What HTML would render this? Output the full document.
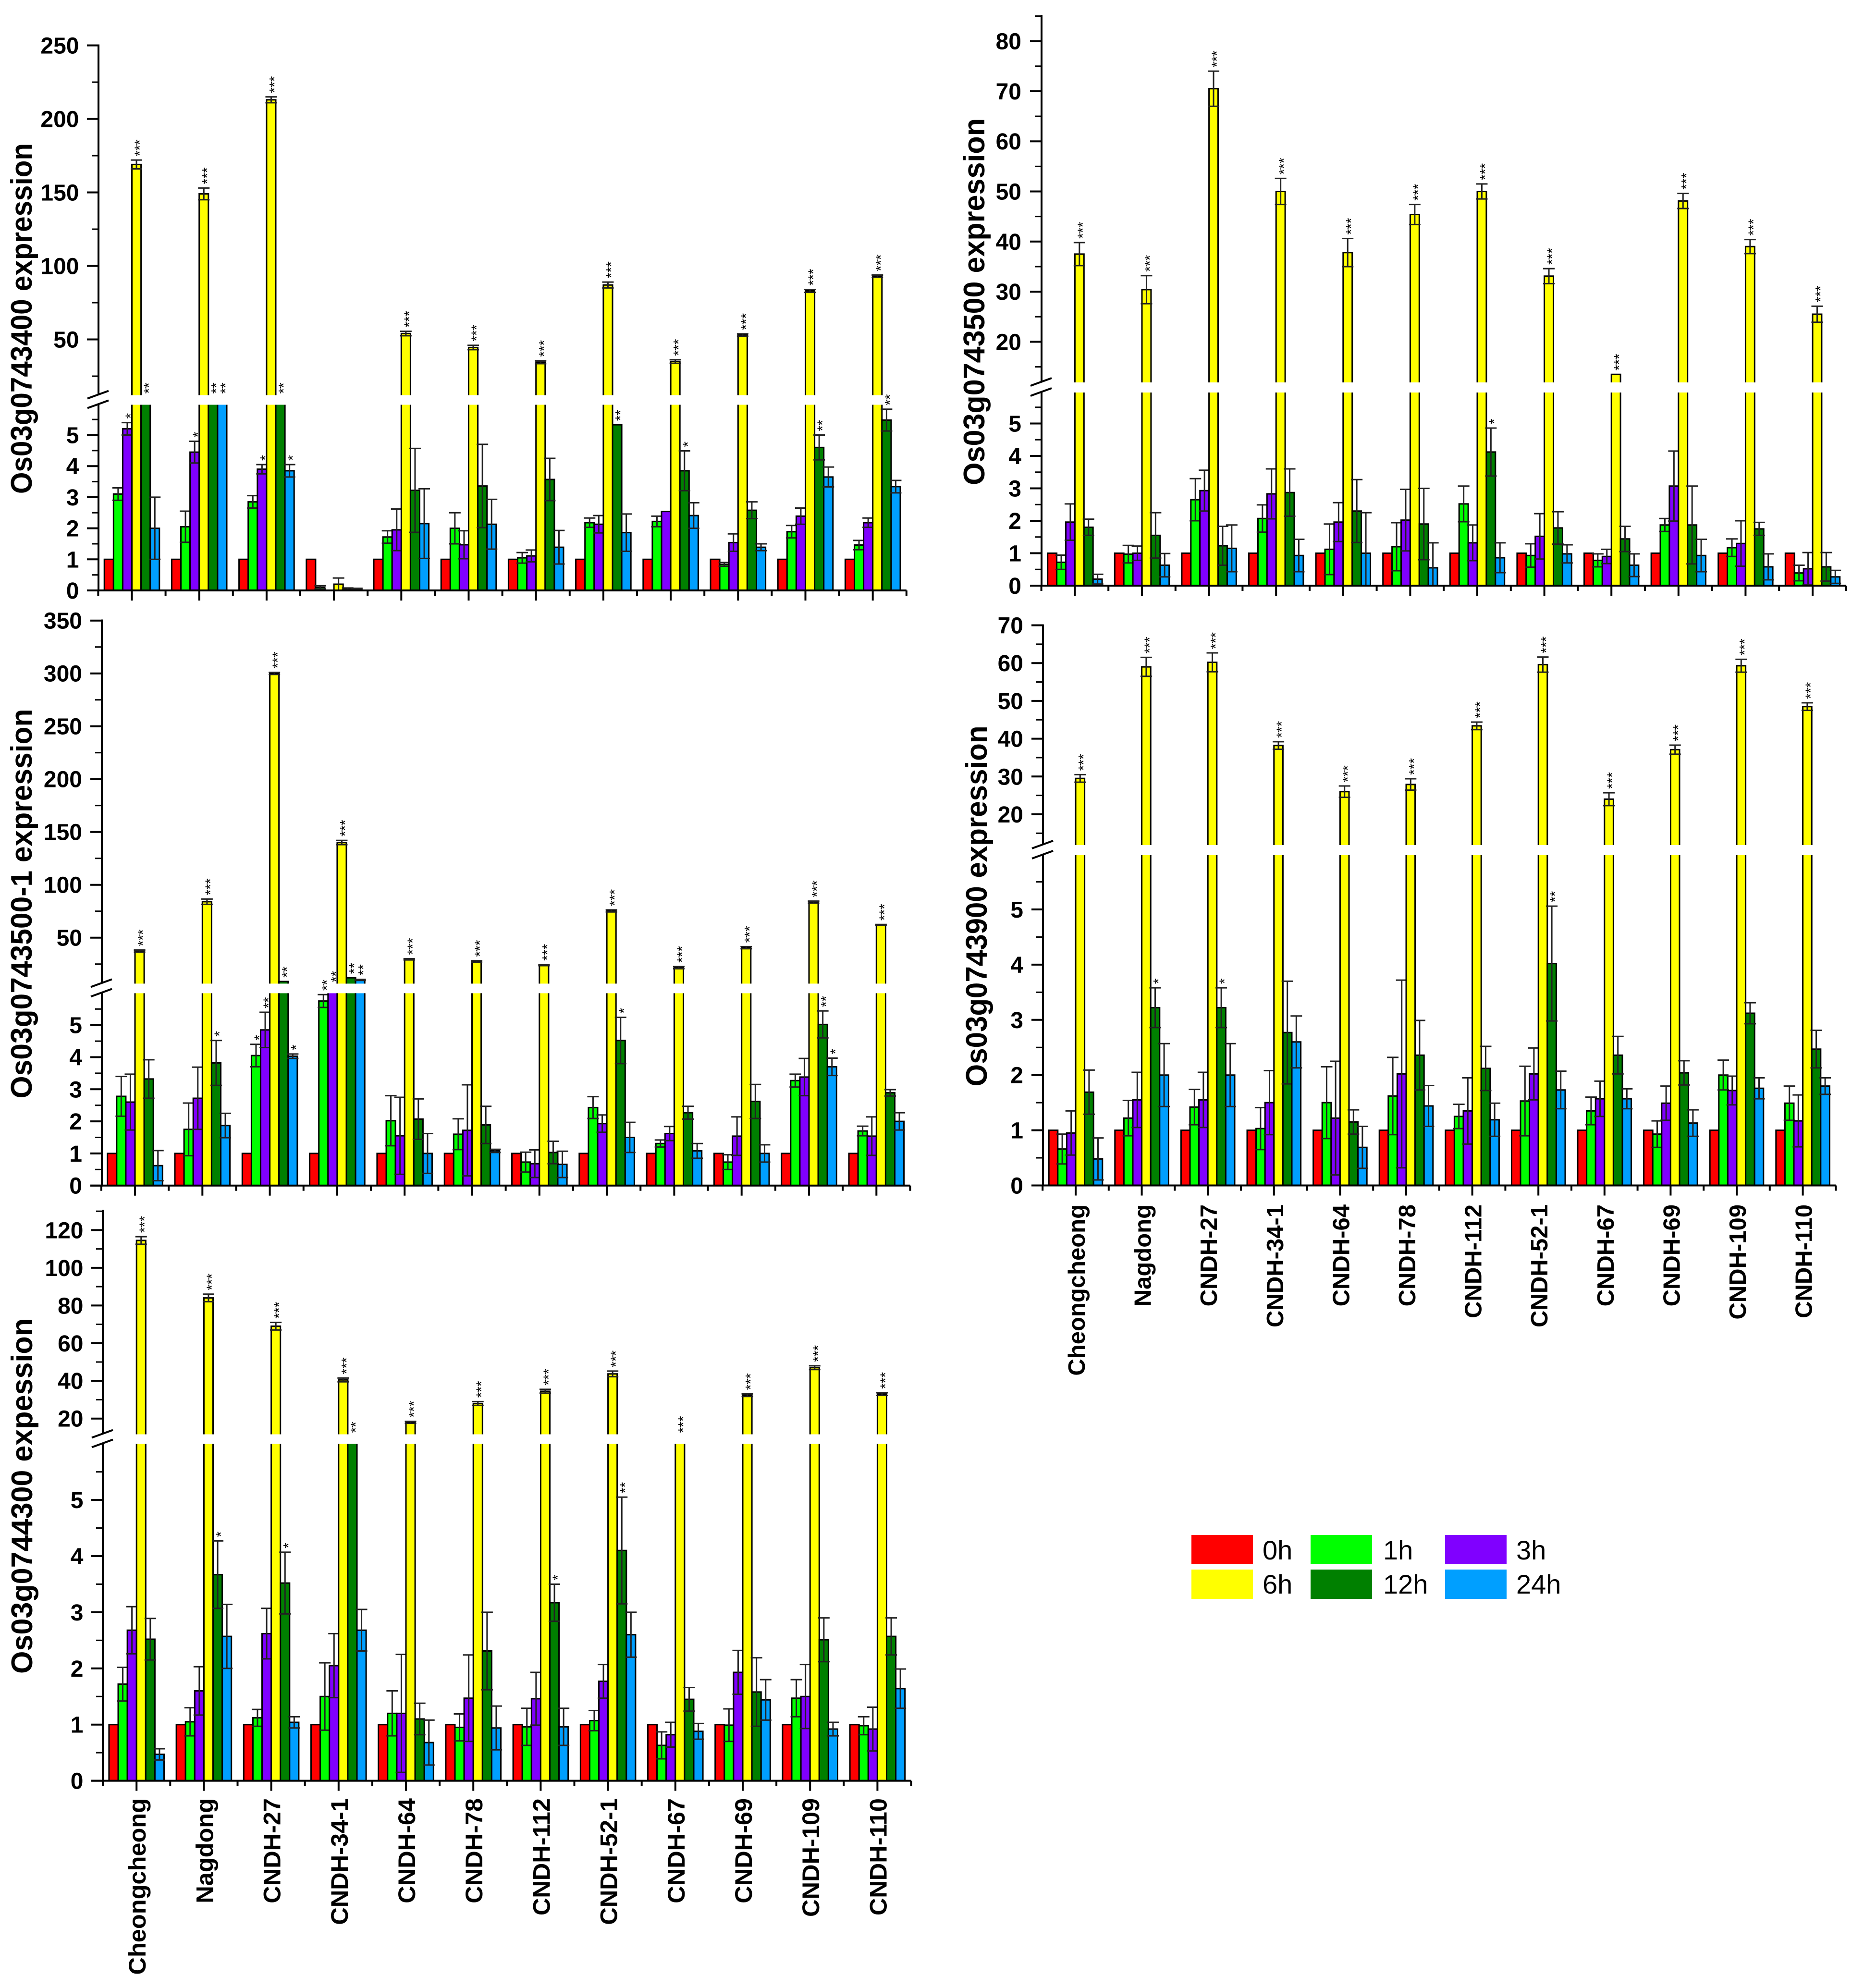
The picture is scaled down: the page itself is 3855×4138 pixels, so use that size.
<!DOCTYPE html>
<html lang="en">
<head>
<meta charset="utf-8">
<title>Os03g07 gene expression across CNDH lines</title>
<style>
html,body{margin:0;padding:0;background:#fff}
svg{display:block}
text{font-family:"Liberation Sans",Arial,sans-serif;fill:#000}
.tick{font-weight:700;font-size:48px}
.ylab{font-weight:700;font-size:62px}
.cat{font-weight:700}
.star{font-size:30px;font-weight:400}
.leg{font-size:56px}
</style>
</head>
<body>
<svg id="figure" xmlns="http://www.w3.org/2000/svg" width="3855" height="4138" viewBox="0 0 3855 4138">
<rect x="0" y="0" width="3855" height="4138" fill="#fff"/>
<g>
<rect x="2480" y="3195" width="128" height="61" fill="#ff0000"/>
<text class="leg" x="2628" y="3246">0h</text>
<rect x="2728" y="3195" width="128" height="61" fill="#00ff00"/>
<text class="leg" x="2879" y="3246">1h</text>
<rect x="3008" y="3195" width="128" height="61" fill="#8000ff"/>
<text class="leg" x="3156" y="3246">3h</text>
<rect x="2480" y="3267" width="128" height="61" fill="#ffff00"/>
<text class="leg" x="2628" y="3317">6h</text>
<rect x="2728" y="3267" width="128" height="61" fill="#008000"/>
<text class="leg" x="2879" y="3317">12h</text>
<rect x="3008" y="3267" width="128" height="61" fill="#009fff"/>
<text class="leg" x="3156" y="3317">24h</text>
</g>
</svg>
<script>
const categories = ["Cheongcheong","Nagdong","CNDH-27","CNDH-34-1","CNDH-64","CNDH-78","CNDH-112","CNDH-52-1","CNDH-67","CNDH-69","CNDH-109","CNDH-110"];
const hours = ["0h","1h","3h","6h","12h","24h"];
const control0h = [1,1,1,1,1,1,1,1,1,1,1,1];

/* Os03g0743400 */
const a1h = [3.1,2.05,2.85,0.1,1.72,2.0,1.05,2.18,2.22,0.84,1.89,1.46];
const a1hErr = [0.2,0.5,0.2,0.05,0.2,0.5,0.17,0.15,0.17,0.06,0.2,0.15];
const a3h = [5.2,4.45,3.9,0,1.95,1.47,1.11,2.13,2.54,1.54,2.39,2.18];
const a3hErr = [0.2,0.35,0.15,0,0.67,0.45,0.19,0.28,0,0.28,0.26,0.15];
const a6h = [169,149,213,0.2,54,44.5,34.5,87,35,53,83,93];
const a6hErr = [3,4,2,0.2,1.5,1.5,1,2,1.2,0.8,1,0.8];
const a12h = [10,10,10,0.05,3.22,3.36,3.57,5.33,3.85,2.58,4.6,5.48];
const a12hErr = [0,0,0,0.03,1.35,1.34,0.68,0,0.64,0.27,0.4,0.35];
const a24h = [2.0,10,3.85,0.05,2.15,2.13,1.39,1.86,2.41,1.39,3.65,3.34];
const a24hErr = [1.0,0,0.2,0.02,1.12,0.8,0.54,0.6,0.41,0.11,0.32,0.2];
const a3hStars = ["*","*","*","","","","","","","","",""];
const a6hStars = ["***","***","***","","***","***","***","***","***","***","***","***"];
const a12hStars = ["**","**","**","","","","","**","*","","**","**"];
const a24hStars = ["","**","*","","","","","","","","",""];
const aUpperTicks = [50,100,150,200,250];
const aLowerTicks = [0,1,2,3,4,5];

/* Os03g0743500 */
const b1h = [0.72,0.97,2.65,2.07,1.12,1.2,2.52,0.93,0.78,1.87,1.17,0.39];
const b1hErr = [0.22,0.27,0.65,0.42,0.78,0.74,0.55,0.36,0.2,0.2,0.27,0.24];
const b3h = [1.96,1.0,2.93,2.83,1.96,2.02,1.32,1.52,0.9,3.07,1.3,0.52];
const b3hErr = [0.56,0.22,0.63,0.77,0.6,0.95,0.55,0.7,0.22,1.08,0.7,0.5];
const b6h = [37.5,30.4,70.5,50,37.8,45.4,50,33.1,13.5,48.1,39,25.5];
const b6hErr = [2.3,2.8,3.5,2.6,2.8,2,1.5,1.5,0,1.5,1.4,1.6];
const b12h = [1.8,1.55,1.23,2.87,2.3,1.9,4.12,1.78,1.44,1.87,1.75,0.58];
const b12hErr = [0.25,0.7,0.6,0.73,0.97,1.1,0.74,0.5,0.39,1.2,0.2,0.44];
const b24h = [0.2,0.63,1.15,0.93,1.0,0.55,0.86,0.98,0.63,0.93,0.58,0.27];
const b24hErr = [0.15,0.36,0.72,0.5,1.25,0.77,0.46,0.28,0.35,0.5,0.4,0.2];
const b6hStars = ["***","***","***","***","***","***","***","***","***","***","***","***"];
const b12hStars = ["","","","","","","*","","","","",""];
const bUpperTicks = [20,30,40,50,60,70,80];
const bLowerTicks = [0,1,2,3,4,5];

/* Os03g0743500-1 */
const c1h = [2.78,1.75,4.05,5.75,2.02,1.6,0.73,2.43,1.31,0.73,3.27,1.7];
const c1hErr = [0.62,0.82,0.35,0.2,0.78,0.48,0.31,0.34,0.11,0.23,0.2,0.15];
const c3h = [2.6,2.72,4.85,6.3,1.55,1.72,0.68,1.93,1.62,1.54,3.38,1.54];
const c3hErr = [0.87,0.97,0.55,0,1.2,1.42,0.43,0.27,0.22,0.6,0.58,0.6];
const c6h = [37.3,84,300,140,29.5,27.5,24,75.3,21.6,40.5,83.6,62];
const c6hErr = [1,2.5,1,2,0.6,0.7,0.5,1,1,1,1,0.5];
const c12h = [3.32,3.82,8.5,12,2.07,1.89,1.03,4.52,2.27,2.62,5.02,2.89];
const c12hErr = [0.6,0.7,0,0,0.63,0.58,0.35,0.72,0.2,0.53,0.42,0.1];
const c24h = [0.62,1.87,4.03,10,1.0,1.08,0.66,1.5,1.08,1.0,3.7,2.0];
const c24hErr = [0.47,0.38,0.07,0.5,0.62,0.05,0.41,0.47,0.23,0.27,0.27,0.27];
const c1hStars = ["","","*","**","","","","","","","",""];
const c3hStars = ["","","**","**","","","","","","","",""];
const c6hStars = ["***","***","***","***","***","***","***","***","***","***","***","***"];
const c12hStars = ["","*","**","**","","","","*","","","**",""];
const c24hStars = ["","","*","**","","","","","","","*",""];
const cUpperTicks = [50,100,150,200,250,300,350];
const cLowerTicks = [0,1,2,3,4,5];

/* Os03g0743900 */
const d1h = [0.66,1.22,1.42,1.03,1.5,1.62,1.25,1.53,1.35,0.93,2.0,1.49];
const d1hErr = [0.27,0.32,0.32,0.38,0.65,0.7,0.22,0.63,0.25,0.24,0.27,0.31];
const d3h = [0.95,1.55,1.55,1.5,1.22,2.02,1.35,2.02,1.57,1.49,1.72,1.17];
const d3hErr = [0.4,0.5,0.5,0.58,1.03,1.7,0.6,0.47,0.32,0.31,0.26,0.47];
const d6h = [29.5,59,60.2,38.2,26,27.9,43.4,59.6,24,37.1,59.3,48.5];
const d6hErr = [1,2.5,2.5,1,1.5,1.5,1,2,1.7,1.2,1.7,1];
const d12h = [1.69,3.22,3.22,2.77,1.15,2.36,2.12,4.02,2.36,2.04,3.12,2.47];
const d12hErr = [0.4,0.36,0.36,0.93,0.22,0.63,0.4,1.04,0.34,0.22,0.19,0.34];
const d24h = [0.48,2.0,2.0,2.6,0.69,1.44,1.19,1.73,1.57,1.13,1.76,1.8];
const d24hErr = [0.38,0.57,0.57,0.47,0.38,0.37,0.3,0.34,0.18,0.24,0.19,0.15];
const d6hStars = ["***","***","***","***","***","***","***","***","***","***","***","***"];
const d12hStars = ["","*","*","","","","","**","","","",""];
const dUpperTicks = [20,30,40,50,60,70];
const dLowerTicks = [0,1,2,3,4,5];

/* Os03g0744300 */
const e1h = [1.72,1.05,1.12,1.5,1.2,0.95,0.96,1.07,0.63,0.99,1.47,0.98];
const e1hErr = [0.3,0.25,0.15,0.6,0.4,0.24,0.33,0.18,0.24,0.29,0.33,0.16];
const e3h = [2.68,1.6,2.62,2.05,1.2,1.47,1.46,1.77,0.82,1.93,1.5,0.92];
const e3hErr = [0.42,0.43,0.45,0.57,1.05,0.77,0.47,0.3,0.22,0.39,0.57,0.39];
const e6h = [114.5,84,69,40.5,18,28,34.5,43.7,11,32.4,47,33];
const e6hErr = [2,2,2,1,0.5,1,1,1.5,0,0.7,1,0.7];
const e12h = [2.52,3.67,3.52,11,1.1,2.31,3.17,4.1,1.45,1.58,2.51,2.57];
const e12hErr = [0.37,0.6,0.55,0,0.28,0.69,0.33,0.95,0.21,0.61,0.39,0.33];
const e24h = [0.47,2.57,1.04,2.68,0.68,0.94,0.96,2.6,0.88,1.44,0.92,1.64];
const e24hErr = [0.1,0.57,0.1,0.37,0.4,0.39,0.33,0.4,0.14,0.36,0.12,0.35];
const e6hStars = ["***","***","***","***","***","***","***","***","***","***","***","***"];
const e12hStars = ["","*","*","**","","","*","**","","","",""];
const eUpperTicks = [20,40,60,80,100,120];
const eLowerTicks = [0,1,2,3,4,5];

const noStars = ["","","","","","","","","","","",""];
const noErr = [0,0,0,0,0,0,0,0,0,0,0,0];
const seriesColors = ["#ff0000","#00ff00","#8000ff","#ffff00","#008000","#009fff"];

const panels = [
  {key:"os03g0743400",title:"Os03g0743400 expression",titleLen:730,titleX:66,titleMid:663,
   axisX:205,center0:274.5,step:140.2,barW:19.1,base:1229,lowPer:64.7,gapTop:822.5,gapBot:842.5,
   upRef:50,upRefY:706.5,upPer:3.06,axisTop:94.5,upperMinor:25,labelRight:164.5,
   upperTicks:aUpperTicks,lowerTicks:aLowerTicks,
   vals:[control0h,a1h,a3h,a6h,a12h,a24h],errs:[noErr,a1hErr,a3hErr,a6hErr,a12hErr,a24hErr],
   stars:[noStars,noStars,a3hStars,a6hStars,a12hStars,a24hStars]},
  {key:"os03g0743500",title:"Os03g0743500 expression",titleLen:764,titleX:2049,titleMid:628,
   axisX:2168,center0:2237.4,step:139.6,barW:18.9,base:1219,lowPer:67.5,gapTop:796,gapBot:817,
   upRef:20,upRefY:711.4,upPer:10.43,axisTop:33,upperMinor:5,labelRight:2126,
   upperTicks:bUpperTicks,lowerTicks:bLowerTicks,
   vals:[control0h,b1h,b3h,b6h,b12h,b24h],errs:[noErr,b1hErr,b3hErr,b6hErr,b12hErr,b24hErr],
   stars:[noStars,noStars,noStars,b6hStars,b12hStars,noStars]},
  {key:"os03g0743500-1",title:"Os03g0743500-1 expression",titleLen:811,titleX:66,titleMid:1881,
   axisX:212,center0:281,step:140.3,barW:19.1,base:2467.7,lowPer:66.8,gapTop:2047.4,gapBot:2067.4,
   upRef:50,upRefY:1951.7,upPer:2.2,axisTop:1291.5,upperMinor:25,labelRight:171,
   upperTicks:cUpperTicks,lowerTicks:cLowerTicks,
   vals:[control0h,c1h,c3h,c6h,c12h,c24h],errs:[noErr,c1hErr,c3hErr,c6hErr,c12hErr,c24hErr],
   stars:[noStars,c1hStars,c3hStars,c6hStars,c12hStars,c24hStars]},
  {key:"os03g0743900",title:"Os03g0743900 expression",titleLen:751,titleX:2054,titleMid:1886,
   axisX:2171,center0:2239,step:137.6,barW:18.6,base:2467.5,lowPer:114.9,gapTop:1759,gapBot:1780,
   upRef:20,upRefY:1695,upPer:7.87,axisTop:1301.6,upperMinor:5,labelRight:2130,
   upperTicks:dUpperTicks,lowerTicks:dLowerTicks,catFont:49,catEnd:2507,
   vals:[control0h,d1h,d3h,d6h,d12h,d24h],errs:[noErr,d1hErr,d3hErr,d6hErr,d12hErr,d24hErr],
   stars:[noStars,noStars,noStars,d6hStars,d12hStars,noStars]},
  {key:"os03g0744300",title:"Os03g0744300 expession",titleLen:740,titleX:67,titleMid:3114,
   axisX:214,center0:284.2,step:140.2,barW:19.1,base:3706.6,lowPer:116.9,gapTop:2985.5,gapBot:3005.5,
   upRef:20,upRefY:2952.7,upPer:3.923,axisTop:2520,upperMinor:10,labelRight:173.5,
   upperTicks:eUpperTicks,lowerTicks:eLowerTicks,catFont:50.5,catEnd:3743,
   vals:[control0h,e1h,e3h,e6h,e12h,e24h],errs:[noErr,e1hErr,e3hErr,e6hErr,e12hErr,e24hErr],
   stars:[noStars,noStars,noStars,e6hStars,e12hStars,noStars]}
];

const NS = "http://www.w3.org/2000/svg";
const figure = document.getElementById("figure");

function svgEl(tag, parent) {
  const el = document.createElementNS(NS, tag);
  parent.appendChild(el);
  return el;
}
function strokeLine(parent, x1, y1, x2, y2, width, color) {
  const l = svgEl("line", parent);
  l.setAttribute("x1", x1);
  l.setAttribute("y1", y1);
  l.setAttribute("x2", x2);
  l.setAttribute("y2", y2);
  l.setAttribute("stroke", color || "#000");
  l.setAttribute("stroke-width", width);
  return l;
}

function drawPanel(p) {
  const group = svgEl("g", figure);
  
  

  const lowMax = (p.base - p.gapBot) / p.lowPer;
  const upMin = p.upRef - (p.gapTop - p.upRefY) / p.upPer;
  const yLow = v => p.base - v * p.lowPer;
  const yUp = v => p.upRefY - (v - p.upRef) * p.upPer;
  const xCenter = i => p.center0 + i * p.step;
  const yAny = v => v <= lowMax ? yLow(v) : (v >= upMin ? yUp(v) : p.gapTop);
  const axisRight = xCenter(categories.length - 1) + p.step / 2;

  /* bars and error bars in series order */
  p.vals.forEach((vals, s) => {
    const layer = svgEl("g", group);
    
    
    vals.forEach((v, i) => {
      if (v <= 0) return;
      const left = xCenter(i) + (s - 3) * p.barW;
      const right = left + p.barW;
      const segs = [];
      if (v <= lowMax) {
        segs.push([yLow(v), p.base, true]);
      } else {
        segs.push([p.gapBot, p.base, false]);
        if (v > upMin) segs.push([yUp(v), p.gapTop, true]);
      }
      segs.forEach(seg => {
        const r = svgEl("rect", layer);
        
        
        r.setAttribute("x", left);
        r.setAttribute("y", seg[0]);
        r.setAttribute("width", p.barW);
        r.setAttribute("height", seg[1] - seg[0]);
        r.setAttribute("fill", seriesColors[s]);
        const o = svgEl("path", layer);
        o.setAttribute("fill", "none");
        o.setAttribute("stroke", "#000");
        o.setAttribute("stroke-width", "3");
        o.setAttribute("d", seg[2]
          ? "M" + left + " " + seg[1] + "V" + seg[0] + "H" + right + "V" + seg[1]
          : "M" + left + " " + seg[1] + "V" + seg[0] + "M" + right + " " + seg[0] + "V" + seg[1]);
      });
      const err = p.errs[s][i];
      const cx = left + p.barW / 2;
      if (err > 0) {
        const hiV = v + err;
        const loV = Math.max(v - err, 0);
        const yH = yAny(hiV);
        const yL = yAny(loV);
        strokeLine(layer, cx, yH, cx, yL, 3, "#222");
        strokeLine(layer, cx - 12, yH, cx + 12, yH, 3, "#222");
        strokeLine(layer, cx - 12, yL, cx + 12, yL, 3, "#222");
      }
      const star = p.stars[s][i];
      if (star) {
        const topV = v + err;
        const yStart = (topV > lowMax && topV < upMin) ? p.gapTop - 3 : yAny(topV) - 8;
        const t = svgEl("text", layer);
        
        
        t.setAttribute("class", "star");
        t.setAttribute("transform", "translate(" + (cx + 17) + " " + yStart + ") rotate(-90)");
        t.textContent = star;
      }
    });
  });

  /* y axis */
  const yAxis = svgEl("g", group);
  
  
  strokeLine(yAxis, p.axisX, p.axisTop - 2, p.axisX, p.gapTop, 4);
  strokeLine(yAxis, p.axisX, p.gapBot, p.axisX, p.base + 2, 4);
  strokeLine(yAxis, p.axisX - 23, p.gapTop + 7, p.axisX + 21, p.gapTop - 9, 4);
  strokeLine(yAxis, p.axisX - 23, p.gapBot + 7, p.axisX + 21, p.gapBot - 9, 4);

  const tickLabel = (value, y) => {
    const t = svgEl("text", yAxis);
    
    
    t.setAttribute("class", "tick");
    t.setAttribute("text-anchor", "end");
    t.setAttribute("x", p.labelRight);
    t.setAttribute("y", y + 17);
    t.textContent = value;
  };
  p.lowerTicks.forEach(v => {
    const y = yLow(v);
    strokeLine(yAxis, p.axisX - 24, y, p.axisX, y, 4);
    tickLabel(v, y);
    const m = yLow(v + 0.5);
    if (m > p.gapBot) strokeLine(yAxis, p.axisX - 14, m, p.axisX, m, 3);
  });
  p.upperTicks.forEach(v => {
    const y = yUp(v);
    strokeLine(yAxis, p.axisX - 24, y, p.axisX, y, 4);
    tickLabel(v, y);
  });
  const upLast = p.upperTicks[p.upperTicks.length - 1];
  for (let v = p.upperTicks[0] - p.upperMinor; v <= upLast + p.upperMinor; v += p.upperMinor) {
    const y = yUp(v);
    if (y < p.gapTop - 4 && y >= p.axisTop - 1 && !p.upperTicks.includes(v)) {
      strokeLine(yAxis, p.axisX - 14, y, p.axisX, y, 3);
    }
  }

  /* y axis title */
  const title = svgEl("text", group);
  
  
  title.setAttribute("class", "ylab");
  title.setAttribute("text-anchor", "middle");
  title.setAttribute("textLength", p.titleLen);
  title.setAttribute("lengthAdjust", "spacingAndGlyphs");
  title.setAttribute("transform", "translate(" + p.titleX + " " + p.titleMid + ") rotate(-90)");
  title.textContent = p.title;

  /* x axis */
  const xAxis = svgEl("g", group);
  
  
  strokeLine(xAxis, p.axisX - 24, p.base, axisRight, p.base, 4);
  categories.forEach((name, i) => {
    const cx = xCenter(i);
    strokeLine(xAxis, cx, p.base, cx, p.base + 21, 4);
    strokeLine(xAxis, cx - p.step / 2, p.base, cx - p.step / 2, p.base + 11, 4);
    if (p.catFont) {
      const t = svgEl("text", xAxis);
      
      
      t.setAttribute("class", "cat");
      t.setAttribute("font-size", p.catFont);
      t.setAttribute("text-anchor", "end");
      t.setAttribute("transform", "translate(" + (cx + 19) + " " + p.catEnd + ") rotate(-90)");
      t.textContent = name;
    }
  });
  strokeLine(xAxis, axisRight, p.base, axisRight, p.base + 11, 4);
}

panels.forEach(drawPanel);
</script>
</body>
</html>
